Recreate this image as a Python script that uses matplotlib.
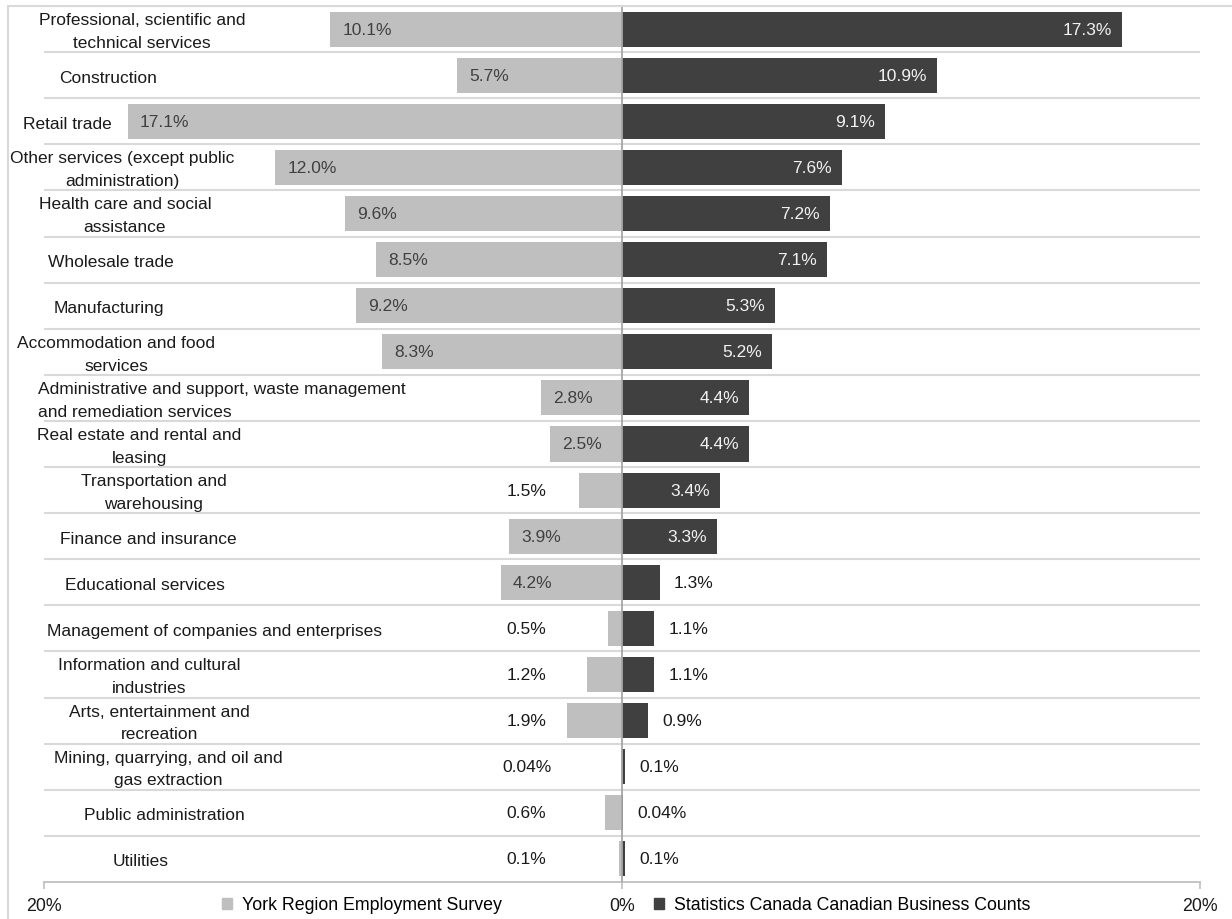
import matplotlib.pyplot as plt
from matplotlib.patches import Patch, Rectangle

# Share of businesses by industry (%)
industries = [
    "Professional, scientific and\ntechnical services",
    "Construction",
    "Retail trade",
    "Other services (except public\nadministration)",
    "Health care and social\nassistance",
    "Wholesale trade",
    "Manufacturing",
    "Accommodation and food\nservices",
    "Administrative and support, waste management\nand remediation services",
    "Real estate and rental and\nleasing",
    "Transportation and\nwarehousing",
    "Finance and insurance",
    "Educational services",
    "Management of companies and enterprises",
    "Information and cultural\nindustries",
    "Arts, entertainment and\nrecreation",
    "Mining, quarrying, and oil and\ngas extraction",
    "Public administration",
    "Utilities",
]
york_survey = [10.1, 5.7, 17.1, 12.0, 9.6, 8.5, 9.2, 8.3, 2.8, 2.5,
               1.5, 3.9, 4.2, 0.5, 1.2, 1.9, 0.04, 0.6, 0.1]
york_text = ["10.1%", "5.7%", "17.1%", "12.0%", "9.6%", "8.5%", "9.2%", "8.3%",
             "2.8%", "2.5%", "1.5%", "3.9%", "4.2%", "0.5%", "1.2%", "1.9%",
             "0.04%", "0.6%", "0.1%"]
statcan_counts = [17.3, 10.9, 9.1, 7.6, 7.2, 7.1, 5.3, 5.2, 4.4, 4.4,
                  3.4, 3.3, 1.3, 1.1, 1.1, 0.9, 0.1, 0.04, 0.1]
statcan_text = ["17.3%", "10.9%", "9.1%", "7.6%", "7.2%", "7.1%", "5.3%", "5.2%",
                "4.4%", "4.4%", "3.4%", "3.3%", "1.3%", "1.1%", "1.1%", "0.9%",
                "0.1%", "0.04%", "0.1%"]

# where each industry name sits along the x axis (label box centre)
label_x = [-16.6, -17.8, -19.2, -17.3, -17.2, -17.7, -17.75, -17.5, -20.2, -16.7,
           -16.2, -16.4, -16.5, -14.1, -16.35, -16.0, -15.7, -15.85, -16.65]

LIGHT = "#bfbfbf"
DARK = "#404040"
GRID = "#d9d9d9"
TEXT = "#1a1a1a"

plt.rcParams["font.family"] = ["Liberation Sans", "DejaVu Sans"]

fig = plt.figure(figsize=(12.32, 9.2), dpi=100)
ax = fig.add_axes([44 / 1232, 37 / 920, 1156 / 1232, 876 / 920])

# thin frame around the whole chart area
fig.patches.append(Rectangle((8 / 1232, -0.02), 1.05, 1 - 7 / 920 + 0.02,
                             transform=fig.transFigure, fill=False,
                             edgecolor=GRID, lw=1.5))

y = list(range(len(industries)))
neg = [-v for v in york_survey]
ax.barh(y, neg, height=0.76, color=LIGHT, zorder=2)
ax.barh(y, statcan_counts, height=0.76, color=DARK, zorder=2)

# row separators
for i in range(len(industries)):
    ax.axhline(i - 0.5, color=GRID, lw=1.5, zorder=1)

ax.axvline(0, color="#a6a6a6", lw=1.3, zorder=3)

for i, name in enumerate(industries):
    ha = "left" if label_x[i] < -20 else "center"
    ax.text(label_x[i], i + 0.04, name, ha=ha, va="center", multialignment=ha,
            fontsize=12.5, color=TEXT, linespacing=1.65)

    v = york_survey[i]
    if v >= 2.5:
        ax.text(-v + 0.42, i, york_text[i], ha="left", va="center",
                fontsize=12.5, color=DARK, zorder=4)
    else:
        ax.text(-3.3, i, york_text[i], ha="center", va="center",
                fontsize=12.5, color=TEXT, zorder=4)

    s = statcan_counts[i]
    if s >= 3:
        ax.text(s - 0.35, i, statcan_text[i], ha="right", va="center",
                fontsize=12.5, color="#f2f2f2", zorder=4)
    else:
        ax.text(s + 0.5, i, statcan_text[i], ha="left", va="center",
                fontsize=12.5, color=TEXT, zorder=4)

ax.set_xlim(-20, 20)
ax.set_ylim(len(industries) - 0.5, -0.5)
ax.set_xticks([-20, 0, 20])
ax.set_xticklabels(["20%", "0%", "20%"])
ax.set_yticks([])
ax.tick_params(axis="x", direction="out", length=5, width=1.2, color=LIGHT,
               labelsize=12.8, labelcolor=TEXT, pad=6)
for side in ["top", "left", "right"]:
    ax.spines[side].set_visible(False)
ax.spines["bottom"].set_color(LIGHT)
ax.spines["bottom"].set_linewidth(1.3)

handles = [Patch(color=LIGHT, label="York Region Employment Survey"),
           Patch(color=DARK, label="Statistics Canada Canadian Business Counts")]
fig.legend(handles=handles, loc="center left",
           bbox_to_anchor=(222 / 1232, 1 - 906 / 920), ncol=2, frameon=False,
           fontsize=12.8, handlelength=0.55, handleheight=0.55,
           handletextpad=0.55, columnspacing=8.6, borderpad=0, borderaxespad=0)

fig.savefig("out.png", dpi=100)
